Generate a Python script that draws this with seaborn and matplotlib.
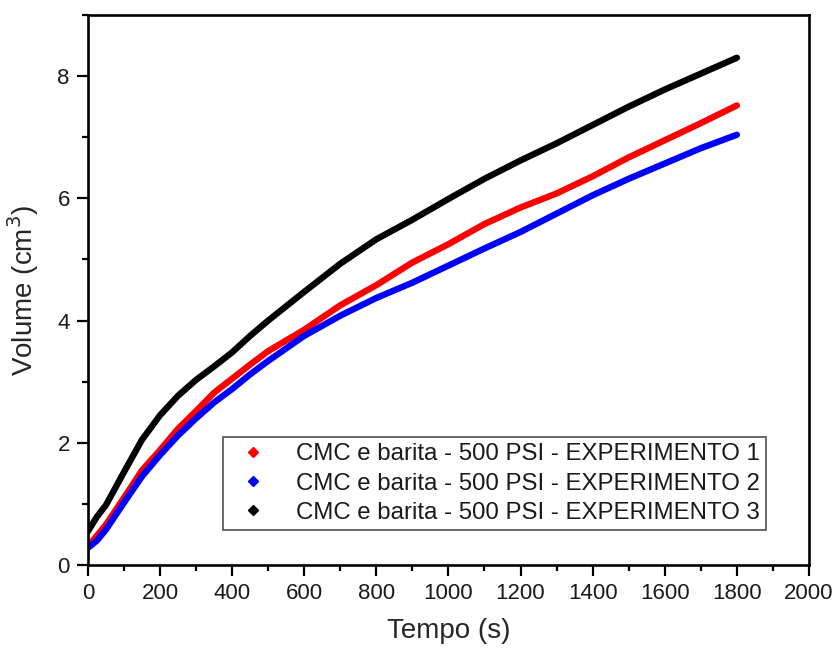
import matplotlib
matplotlib.use("Agg")
import matplotlib.pyplot as plt
from matplotlib.lines import Line2D
from matplotlib.ticker import MultipleLocator
import seaborn as sns
import pandas as pd

# ---- data ----
tempo = [0, 25, 50, 100, 150, 200, 250, 300, 350, 400, 450, 500, 600, 700, 800,
         900, 1000, 1100, 1200, 1300, 1400, 1500, 1600, 1700, 1800]
exp1 = [0.30, 0.48, 0.66, 1.10, 1.55, 1.88, 2.23, 2.52, 2.82, 3.05, 3.28, 3.50, 3.85, 4.25, 4.58,
        4.95, 5.25, 5.58, 5.85, 6.08, 6.36, 6.67, 6.95, 7.23, 7.52]
exp2 = [0.28, 0.40, 0.58, 1.02, 1.45, 1.80, 2.12, 2.40, 2.66, 2.88, 3.12, 3.34, 3.75, 4.08, 4.37,
        4.62, 4.90, 5.18, 5.45, 5.75, 6.05, 6.32, 6.57, 6.82, 7.04]
exp3 = [0.55, 0.79, 0.98, 1.52, 2.05, 2.45, 2.77, 3.03, 3.25, 3.48, 3.75, 4.00, 4.47, 4.93, 5.33,
        5.65, 5.99, 6.32, 6.62, 6.90, 7.20, 7.50, 7.78, 8.04, 8.30]
labels = ["CMC e barita - 500 PSI - EXPERIMENTO 1",
          "CMC e barita - 500 PSI - EXPERIMENTO 2",
          "CMC e barita - 500 PSI - EXPERIMENTO 3"]
colors = ["#ff0000", "#0000ff", "#000000"]
xticks = [0, 200, 400, 600, 800, 1000, 1200, 1400, 1600, 1800, 2000]
yticks = [0, 2, 4, 6, 8]

sns.set_style("white")
plt.rcParams["font.family"] = ["Liberation Sans", "DejaVu Sans"]

df = pd.concat([
    pd.DataFrame({"Tempo": tempo, "Volume": v, "Serie": lab})
    for v, lab in zip([exp1, exp2, exp3], labels)
])

fig = plt.figure(figsize=(8.37, 6.51), dpi=100)
ax = fig.add_axes([0.105, 0.132, 0.8615, 0.845])

sns.lineplot(data=df, x="Tempo", y="Volume", hue="Serie", palette=colors,
             linewidth=4.6, ax=ax, legend=False, sort=False)

ax.set_xlim(0, 2000)
ax.set_ylim(0, 9)
ax.set_xticks(xticks)
ax.set_yticks(yticks)
ax.xaxis.set_minor_locator(MultipleLocator(100))
ax.yaxis.set_minor_locator(MultipleLocator(1))
ax.tick_params(axis="both", which="major", direction="out", length=8, width=1.6,
               labelsize=16, color="black", labelcolor="#1a1a1a", pad=5,
               bottom=True, left=True, top=False, right=False)
ax.tick_params(axis="both", which="minor", direction="out", length=4, width=1.6,
               color="black", bottom=True, left=True, top=False, right=False)
for s in ax.spines.values():
    s.set_color("black")
    s.set_linewidth(1.9)

ax.set_xlabel("Tempo (s)", fontsize=20, labelpad=10)
ax.set_ylabel("Volume (cm$^3$)", fontsize=20, labelpad=12)

handles = [Line2D([], [], linestyle="none", marker="D", markersize=5.5,
                  markerfacecolor=c, markeredgecolor=c) for c in colors]
leg = ax.legend(handles, labels, loc="lower left", bbox_to_anchor=(0.187, 0.064),
                frameon=True, fancybox=False, fontsize=17.3, borderaxespad=0,
                handlelength=2.0, handletextpad=0.8, labelspacing=0.3,
                borderpad=0.25, edgecolor="#222222")
leg.get_frame().set_linewidth(1.2)
for t in leg.get_texts():
    t.set_color("#1a1a1a")

fig.savefig("out.png", dpi=100)
